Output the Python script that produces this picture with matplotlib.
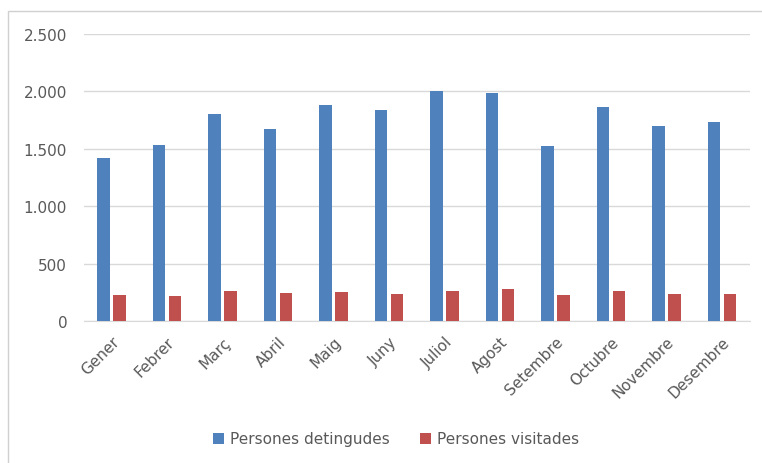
#!/usr/bin/env python3
import numpy as np
import matplotlib
matplotlib.use('Agg')
import matplotlib.pyplot as plt
from matplotlib.ticker import FuncFormatter
from matplotlib.patches import Rectangle

# ** monthly data **
mesos = ['Gener', 'Febrer', 'Març', 'Abril', 'Maig', 'Juny',
         'Juliol', 'Agost', 'Setembre', 'Octubre', 'Novembre', 'Desembre']
detingudes = [1420, 1536, 1803, 1669, 1884, 1841, 2006, 1989, 1521, 1864, 1695, 1730]
visitades = [232, 220, 261, 247, 255, 238, 261, 282, 229, 261, 238, 238]

plt.rcParams['font.family'] = ['DejaVu Sans']
gray = '#595959'

fig = plt.figure(figsize=(7.62, 4.64), dpi=100)
# chart border
fig.patches.append(Rectangle((8 / 762, -0.02), 1.0, 1 - 12 / 464 + 0.02,
                             transform=fig.transFigure, fill=False,
                             edgecolor='#d0d0d0', linewidth=1))
ax = fig.add_axes([0.110, 0.3054, 0.874, 0.6192])

x = np.arange(len(mesos))
w = 0.225
ax.bar(x - 0.142, detingudes, w, color='#4F81BD', label='Persones detingudes', zorder=3)
ax.bar(x + 0.142, visitades, w, color='#C0504D', label='Persones visitades', zorder=3)

ax.set_xlim(-0.5, len(mesos) - 0.5)
ax.set_ylim(0, 2500)
ax.set_yticks(range(0, 2501, 500))
ax.yaxis.set_major_formatter(FuncFormatter(lambda v, p: f'{int(v):,}'.replace(',', '.')))
ax.grid(axis='y', color='#d9d9d9', linewidth=1, zorder=0)
for s in ['top', 'right', 'left']:
    ax.spines[s].set_visible(False)
ax.spines['bottom'].set_color('#d9d9d9')
ax.tick_params(axis='both', length=0, colors=gray, labelsize=11)
ax.tick_params(axis='y', pad=12)
ax.tick_params(axis='x', pad=9)
ax.set_xticks(x)
ax.set_xticklabels(mesos, rotation=45, ha='right', rotation_mode='anchor')

fig.legend(loc='center', bbox_to_anchor=(0.52, 1 - 440 / 464), ncol=2,
           frameon=False, fontsize=11, labelcolor=gray, handlelength=0.7,
           handleheight=0.7, handletextpad=0.4, columnspacing=2.0)

plt.savefig('out.png', dpi=100)
